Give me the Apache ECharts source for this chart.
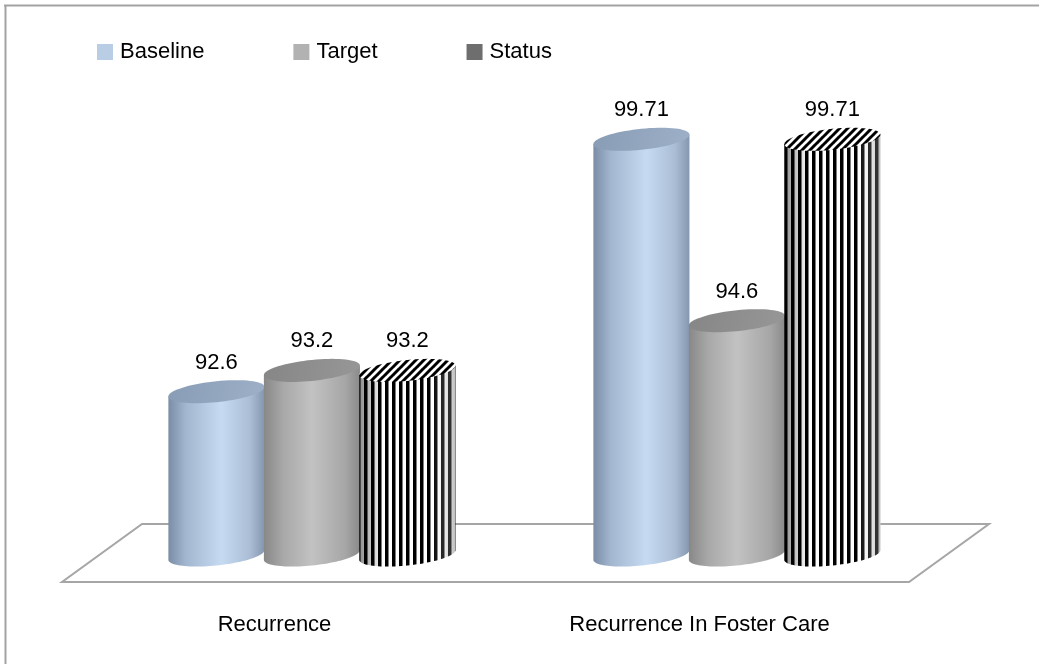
<!DOCTYPE html>
<html><head><meta charset="utf-8">
<script src="https://cdn.jsdelivr.net/npm/echarts@6/dist/echarts.min.js"></script>
<style>html,body{margin:0;padding:0;background:#fff}#c{width:1039px;height:664px}</style>
</head><body><div id="c"></div>
<script>
// ---- data ----
const categories = ['Recurrence', 'Recurrence In Foster Care'];
const seriesNames = ['Baseline', 'Target', 'Status'];
const baselineValues = [92.6, 99.71];
const targetValues = [93.2, 94.6];
const statusValues = [93.2, 99.71];
const valueAxisMin = 88;
const valueAxisMax = 100;

// ---- style constants ----
const FONT = '"Liberation Sans", Arial, sans-serif';
const OFFSET_CENTER = 0.088;   // 3D shift of bar group inside band
const SPACING = 0.2247;        // distance between cylinders (fraction of band)
const RX_FRAC = 0.113;         // cylinder radius (fraction of band)
const RY = 10.5;               // ellipse vertical radius
const TILT = 0.1;              // ellipse shear
const LABEL_GAP = 29;

function stripeCanvas() {
  const c = document.createElement('canvas');
  c.width = 7; c.height = 8;
  const g = c.getContext('2d');
  g.fillStyle = '#fff'; g.fillRect(0, 0, 7, 8);
  g.fillStyle = '#000'; g.fillRect(0, 0, 3.5, 8);
  return c;
}
function diagCanvas() {
  const c = document.createElement('canvas');
  c.width = 8; c.height = 8;
  const g = c.getContext('2d');
  g.fillStyle = '#fff'; g.fillRect(0, 0, 8, 8);
  g.strokeStyle = '#000'; g.lineWidth = 3;
  for (let o = -8; o <= 8; o += 8) {
    g.beginPath(); g.moveTo(o - 1, 9); g.lineTo(o + 9, -1); g.stroke();
  }
  return c;
}
const stripePattern = { image: stripeCanvas(), repeat: 'repeat' };
const diagPattern = { image: diagCanvas(), repeat: 'repeat' };

const LG = echarts.graphic.LinearGradient;
const looks = [
  { // Baseline
    side: () => new LG(0, 0, 1, 0, [
      { offset: 0, color: '#7b8da6' }, { offset: 0.18, color: '#a2b6cf' },
      { offset: 0.55, color: '#c6dbf2' }, { offset: 0.85, color: '#aabdd5' },
      { offset: 1, color: '#8597ae' }]),
    top: () => new LG(0, 0, 1, 1, [{ offset: 0, color: '#899cb5' }, { offset: 1, color: '#9db0c8' }])
  },
  { // Target
    side: () => new LG(0, 0, 1, 0, [
      { offset: 0, color: '#888888' }, { offset: 0.2, color: '#a8a8a8' },
      { offset: 0.5, color: '#c2c2c2' }, { offset: 0.85, color: '#a6a6a6' },
      { offset: 1, color: '#8a8a8a' }]),
    top: () => new LG(0, 0, 1, 1, [{ offset: 0, color: '#868686' }, { offset: 1, color: '#979797' }])
  },
  { // Status
    side: () => stripePattern,
    top: () => diagPattern
  }
];

function ellPts(cx, cy, rx, ry, t0, t1, n) {
  const pts = [];
  for (let i = 0; i <= n; i++) {
    const t = t0 + (t1 - t0) * i / n;
    pts.push([cx + rx * Math.cos(t), cy + ry * Math.sin(t) - TILT * rx * Math.cos(t)]);
  }
  return pts;
}

function makeRender(sIdx) {
  return function (params, api) {
    const ci = api.value(0), v = api.value(1);
    const top = api.coord([ci, v]);
    const base = api.coord([ci, valueAxisMin]);
    const band = api.size([1, 0])[0];
    const cx = top[0] + band * (OFFSET_CENTER + (sIdx - 1) * SPACING);
    const rx = band * RX_FRAC;
    const topY = top[1], botY = base[1];
    const sidePts = [[cx - rx, topY + TILT * rx]]
      .concat(ellPts(cx, botY, rx, RY, Math.PI, 0, 48))
      .concat([[cx + rx, topY - TILT * rx]]);
    const children = [
      { type: 'polygon', shape: { points: sidePts }, style: { fill: looks[sIdx].side() } }
    ];
    if (sIdx === 2) {
      children.push({ type: 'polygon', shape: { points: sidePts }, style: {
        fill: new LG(0, 0, 1, 0, [
          { offset: 0, color: 'rgba(0,0,0,0.45)' }, { offset: 0.25, color: 'rgba(0,0,0,0)' },
          { offset: 0.75, color: 'rgba(255,255,255,0)' }, { offset: 1, color: 'rgba(110,110,110,0.45)' }])
      } });
    }
    children.push({ type: 'polygon', shape: { points: ellPts(cx, topY, rx, RY, 0, Math.PI * 2, 72) },
      style: { fill: looks[sIdx].top() } });
    children.push({ type: 'text', style: {
      text: String(v), x: cx, y: topY - LABEL_GAP, align: 'center', verticalAlign: 'middle',
      fontSize: 22, fontFamily: FONT, fill: '#000' } });
    return { type: 'group', children: children };
  };
}

const valueLists = [baselineValues, targetValues, statusValues];
const legendColors = ['#b9cde5', '#b2b2b2', '#6e6e6e'];

const chart = echarts.init(document.getElementById('c'), null, { renderer: 'canvas' });
chart.setOption({
  animation: false,
  backgroundColor: '#fff',
  graphic: [
    { type: 'line', shape: { x1: 4, y1: 5.5, x2: 1039, y2: 5.5 }, style: { stroke: '#a3a3a3', lineWidth: 2 } },
    { type: 'line', shape: { x1: 5.5, y1: 5, x2: 5.5, y2: 664 }, style: { stroke: '#a3a3a3', lineWidth: 2 } }
  ],
  legend: {
    data: seriesNames,
    left: 97, top: 41, padding: 0,
    icon: 'rect', itemWidth: 16, itemHeight: 16, itemGap: 89,
    textStyle: { fontSize: 22, fontFamily: FONT, color: '#000', padding: [0, 0, 0, 2] },
    selectedMode: false
  },
  grid: { left: 62, right: 127, top: 129, bottom: 109 },
  xAxis: {
    type: 'category', data: categories,
    axisLine: { show: false }, axisTick: { show: false }, splitLine: { show: false },
    axisLabel: { fontSize: 22, fontFamily: FONT, color: '#000', margin: 59 }
  },
  yAxis: { type: 'value', min: valueAxisMin, max: valueAxisMax, show: false, splitLine: { show: false } },
  series: [
    {
      type: 'custom', name: 'floor', silent: true, z: 1,
      data: [[0, valueAxisMin]],
      renderItem: function (params, api) {
        const cs = params.coordSys;
        const bY = cs.y + cs.height;
        const r = cs.x + cs.width - 3;
        return { type: 'polygon', shape: { points: [[cs.x, bY + 27], [r, bY + 27], [r + 80, bY - 31], [cs.x + 80, bY - 31]] },
          style: { fill: '#fff', stroke: '#a6a6a6', lineWidth: 2 } };
      }
    }
  ].concat(seriesNames.map((n, i) => ({
    type: 'custom', name: n, z: 2 + i,
    itemStyle: { color: legendColors[i] },
    data: valueLists[i].map((v, k) => [k, v]),
    encode: { x: 0, y: 1 },
    renderItem: makeRender(i)
  })))
});
</script></body></html>
